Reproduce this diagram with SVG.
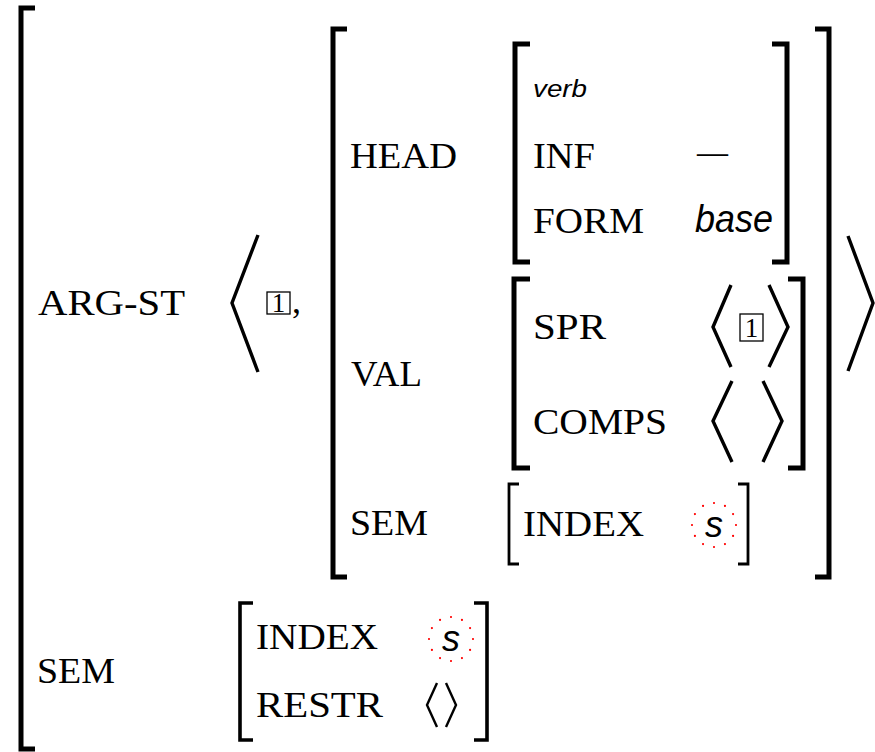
<svg xmlns="http://www.w3.org/2000/svg" width="875" height="752" viewBox="0 0 875 752">
<style>
.br{fill:none;stroke:#000;stroke-width:5;stroke-linejoin:miter}
.brt{fill:none;stroke:#000;stroke-width:2.8}
.brm{fill:none;stroke:#000;stroke-width:3.6}
.ang{fill:none;stroke:#000;stroke-width:3.4;stroke-linecap:butt;stroke-linejoin:miter}
.angs{fill:none;stroke:#000;stroke-width:2.4}
.t{font-family:"Liberation Serif","Times New Roman",serif;font-size:36px;fill:#000}
.it{font-family:"Liberation Sans",Arial,sans-serif;font-style:italic;fill:#000}
.box{fill:none;stroke:#000;stroke-width:1.3}
.num{font-family:"Liberation Serif",serif;font-size:27px;fill:#000;text-anchor:middle}
.tag{fill:none;stroke:#f00;stroke-width:2.2;stroke-linecap:round;stroke-dasharray:0 1}
</style>
<rect width="875" height="752" fill="#fff"/>

<g id="outer">
<path class="br" d="M35,8 H21 V749 H35"/>
</g>

<g id="arg-st">
<text class="t" x="38" y="315" textLength="147" lengthAdjust="spacingAndGlyphs">ARG-ST</text>
<path class="ang" d="M258,235 L232,303 L258,372"/>
<rect class="box" x="267" y="292" width="23" height="22"/>
<text class="num" x="278.5" y="312">1</text>
<text class="t" x="292" y="313">,</text>
<path class="ang" d="M848,236 L873,303 L848,371"/>
</g>

<g id="synsem">
<path class="br" d="M347,29 H333 V577 H347"/>
<path class="br" d="M815,29 H829 V577 H815"/>

<g id="head">
<text class="t" x="350" y="168" textLength="107" lengthAdjust="spacingAndGlyphs">HEAD</text>
<path class="br" d="M530,44 H515 V262 H530"/>
<path class="br" d="M772,44 H787 V262 H772"/>
<text class="it" x="533" y="97" font-size="23" textLength="54" lengthAdjust="spacingAndGlyphs">verb</text>
<text class="t" x="533" y="168" textLength="62" lengthAdjust="spacingAndGlyphs">INF</text>
<text class="t" x="697" y="164" textLength="31" lengthAdjust="spacingAndGlyphs">—</text>
<text class="t" x="533" y="233" textLength="111" lengthAdjust="spacingAndGlyphs">FORM</text>
<text class="it" x="695" y="232" font-size="38" textLength="78" lengthAdjust="spacingAndGlyphs">base</text>
</g>

<g id="val">
<text class="t" x="351" y="386" textLength="71" lengthAdjust="spacingAndGlyphs">VAL</text>
<path class="br" d="M530,279 H514 V468 H530"/>
<path class="br" d="M788,279 H803 V468 H788"/>
<text class="t" x="533" y="339" textLength="73" lengthAdjust="spacingAndGlyphs">SPR</text>
<path class="ang" d="M731,285 L713,327 L731,367"/>
<rect class="box" x="740" y="314" width="23" height="27"/>
<text class="num" x="751.5" y="337">1</text>
<path class="ang" d="M769,285 L788,327 L769,367"/>
<text class="t" x="533" y="434" textLength="134" lengthAdjust="spacingAndGlyphs">COMPS</text>
<path class="ang" d="M732,381 L713,421 L732,462"/>
<path class="ang" d="M763,381 L782,421 L763,462"/>
</g>

<g id="sem-inner">
<text class="t" x="350" y="535" textLength="78" lengthAdjust="spacingAndGlyphs">SEM</text>
<path class="brt" d="M519,484 H509 V564 H519"/>
<path class="brt" d="M738,484 H748 V564 H738"/>
<text class="t" x="523" y="536" textLength="121" lengthAdjust="spacingAndGlyphs">INDEX</text>
<circle class="tag" cx="714" cy="525" r="22" pathLength="12"/>
<text class="it" x="714" y="537" font-size="36" text-anchor="middle">s</text>
</g>
</g>

<g id="sem">
<text class="t" x="37" y="683" textLength="78" lengthAdjust="spacingAndGlyphs">SEM</text>
<path class="brm" d="M253,603 H240 V740 H253"/>
<path class="brm" d="M474,603 H487 V740 H474"/>
<text class="t" x="256" y="649" textLength="122" lengthAdjust="spacingAndGlyphs">INDEX</text>
<circle class="tag" cx="451" cy="639" r="22" pathLength="12"/>
<text class="it" x="451" y="651" font-size="36" text-anchor="middle">s</text>
<text class="t" x="256" y="717" textLength="127" lengthAdjust="spacingAndGlyphs">RESTR</text>
<path class="angs" d="M437,683 L427,705 L437,727"/>
<path class="angs" d="M446,683 L456,705 L446,727"/>
</g>
</svg>
